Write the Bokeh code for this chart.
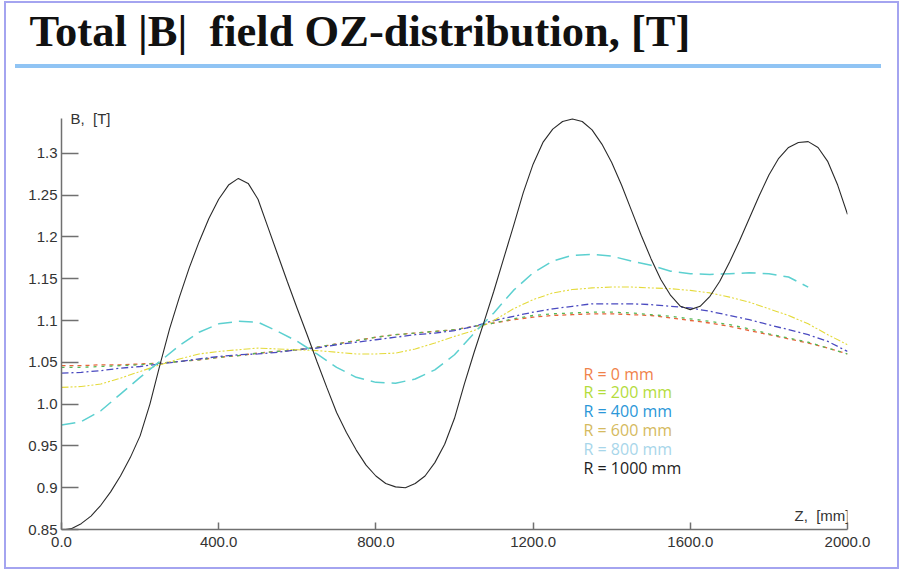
import numpy as np
from bokeh.plotting import figure
from bokeh.models import (FixedTicker, CustomJSTickFormatter, PrintfTickFormatter,
                          Label, Range1d)
from bokeh.embed import file_html
from bokeh.resources import INLINE

# Position along the axis, mm (coarse grid for the smooth inner radii)
z = [0, 50, 100, 150, 200, 250, 300, 350, 400, 450, 500, 550, 600, 650, 700, 750,
     800, 850, 900, 950, 1000, 1050, 1100, 1150, 1200, 1250, 1300, 1350, 1400, 1450,
     1500, 1550, 1600, 1650, 1700, 1750, 1800, 1850, 1900, 1950, 2000]

# |B| in tesla for each radius
b_r0 = [1.046, 1.046, 1.047, 1.047, 1.048, 1.049, 1.051, 1.053, 1.056, 1.058, 1.061,
        1.063, 1.065, 1.068, 1.072, 1.076, 1.080, 1.083, 1.085, 1.087, 1.089, 1.093,
        1.097, 1.101, 1.104, 1.106, 1.107, 1.108, 1.108, 1.107, 1.106, 1.103, 1.100,
        1.097, 1.093, 1.088, 1.083, 1.078, 1.073, 1.067, 1.060]
b_r200 = [1.044, 1.044, 1.045, 1.046, 1.047, 1.049, 1.051, 1.053, 1.056, 1.058, 1.061,
          1.063, 1.065, 1.068, 1.072, 1.076, 1.080, 1.083, 1.085, 1.087, 1.089, 1.093,
          1.097, 1.102, 1.106, 1.108, 1.109, 1.110, 1.110, 1.109, 1.107, 1.105, 1.102,
          1.099, 1.095, 1.090, 1.084, 1.079, 1.074, 1.067, 1.060]
b_r400 = [1.037, 1.038, 1.040, 1.043, 1.045, 1.048, 1.051, 1.054, 1.057, 1.059, 1.060,
          1.062, 1.065, 1.067, 1.071, 1.074, 1.077, 1.080, 1.083, 1.085, 1.088, 1.093,
          1.100, 1.105, 1.110, 1.114, 1.117, 1.120, 1.120, 1.120, 1.119, 1.117, 1.115,
          1.111, 1.106, 1.101, 1.095, 1.089, 1.083, 1.075, 1.063]
b_r600 = [1.020, 1.021, 1.024, 1.031, 1.039, 1.047, 1.054, 1.060, 1.063, 1.065, 1.067,
          1.066, 1.065, 1.064, 1.062, 1.060, 1.060, 1.061, 1.066, 1.073, 1.081, 1.088,
          1.100, 1.114, 1.125, 1.133, 1.137, 1.139, 1.140, 1.140, 1.139, 1.138, 1.136,
          1.133, 1.128, 1.122, 1.114, 1.106, 1.096, 1.083, 1.071]
b_r800 = [0.975, 0.979, 0.992, 1.012, 1.032, 1.051, 1.070, 1.086, 1.096, 1.099, 1.098,
          1.087, 1.075, 1.060, 1.044, 1.032, 1.026, 1.025, 1.030, 1.041, 1.059, 1.085,
          1.109, 1.136, 1.157, 1.171, 1.178, 1.179, 1.177, 1.171, 1.166, 1.159, 1.156,
          1.155, 1.156, 1.157, 1.156, 1.152, 1.140, np.nan, np.nan]

# outermost radius oscillates strongly, so it is sampled every 25 mm
z_fine = list(range(0, 2001, 25))
b_r1000 = [0.849, 0.851, 0.857, 0.866, 0.879, 0.895, 0.914, 0.936, 0.962, 1.000,
           1.046, 1.090, 1.128, 1.163, 1.194, 1.222, 1.245, 1.262, 1.270, 1.264,
           1.245, 1.212, 1.179, 1.146, 1.114, 1.083, 1.051, 1.020, 0.990, 0.966,
           0.945, 0.927, 0.914, 0.905, 0.901, 0.900, 0.905, 0.914, 0.930, 0.952,
           0.983, 1.024, 1.062, 1.098, 1.135, 1.174, 1.213, 1.253, 1.287, 1.313,
           1.329, 1.338, 1.341, 1.338, 1.328, 1.311, 1.289, 1.262, 1.232, 1.202,
           1.174, 1.149, 1.130, 1.117, 1.113, 1.117, 1.129, 1.147, 1.170, 1.195,
           1.222, 1.249, 1.274, 1.294, 1.307, 1.313, 1.314, 1.307, 1.290, 1.262,
           1.227]

radii = [0, 200, 400, 600, 800, 1000]
series_z = [z, z, z, z, z, z_fine]
series = [b_r0, b_r200, b_r400, b_r600, b_r800, b_r1000]

x_ticks = [0, 400, 800, 1200, 1600, 2000]
y_ticks = [0.85, 0.9, 0.95, 1.0, 1.05, 1.1, 1.15, 1.2, 1.25, 1.3]

title_text = "Total |B|\u00a0 field OZ-distribution, [T]"
y_title = "B,\u00a0 [T]"
x_title = "Z,\u00a0 [mm]"

# line styles per radius: colour, dash, width
line_colors = ["#e8643a", "#55b855", "#4a4ac0", "#e4da3a", "#5cd0d0", "#2a2a2a"]
line_dashes = ["4 4", "3 5", "7 3 2 3", "7 2 2 2 2 2", "14 7", "solid"]
line_widths = [1.3, 1.3, 1.3, 1.1, 1.5, 1.1]
legend_colors = ["#f0824a", "#b4dc3c", "#2b97d8", "#d5ba60", "#a8d6ea", "#1e1e1e"]

# slide decoration painted behind the (transparent) canvas: title rule and page edge
rule = "#90c4f4"
edge = "#a4a4f0"
page_bg = ", ".join([
    f"linear-gradient({rule},{rule}) 15px 64px / 866px 4px no-repeat",
    f"linear-gradient({edge},{edge}) 4px 1px / 895px 2px no-repeat",
    f"linear-gradient({edge},{edge}) 4px 567px / 895px 2px no-repeat",
    f"linear-gradient({edge},{edge}) 4px 1px / 2px 568px no-repeat",
    f"linear-gradient({edge},{edge}) 897px 1px / 2px 568px no-repeat",
    "white",
])

# frame reaches up under the title; the y axis line is bounded to the data span
p = figure(width=901, height=570, output_backend="svg", toolbar_location=None,
           x_range=Range1d(0, 2000), y_range=Range1d(0.85, 1.4158),
           min_border_left=61, min_border_right=54, min_border_top=56,
           min_border_bottom=41, styles={"background": page_bg})
p.background_fill_color = None
p.border_fill_color = None
p.outline_line_color = None
p.grid.visible = False

p.title.text = title_text
p.title.text_font = "Liberation Serif"
p.title.text_font_style = "bold"
p.title.text_font_size = "44.5px"
p.title.text_color = "#111111"
p.title.align = "left"
p.title.offset = -32
p.title.standoff = 2

for zz, vals, c, d, w in zip(series_z, series, line_colors, line_dashes, line_widths):
    p.line(zz, np.array(vals, dtype=float), line_color=c, line_dash=d, line_width=w)

axis_gray = "#707070"
tick_font = "Liberation Sans"

p.xaxis.ticker = FixedTicker(ticks=x_ticks)
p.xaxis.formatter = PrintfTickFormatter(format="%.1f")
p.xaxis.major_tick_in = 7
p.xaxis.major_tick_out = 0
p.xaxis.major_label_standoff = 7

p.yaxis.ticker = FixedTicker(ticks=y_ticks)
p.yaxis.formatter = CustomJSTickFormatter(code="return tick.toFixed(2).replace(/0$/, '');")
p.yaxis.major_tick_in = 17
p.yaxis.major_tick_out = 0
p.yaxis.major_label_standoff = 4
p.yaxis.bounds = (0.85, 1.342)

for ax in (p.xaxis, p.yaxis):
    ax.axis_line_color = axis_gray
    ax.axis_line_width = 1.5
    ax.major_tick_line_color = axis_gray
    ax.major_tick_line_width = 1.5
    ax.minor_tick_line_color = None
    ax.major_label_text_font = tick_font
    ax.major_label_text_font_size = "15px"
    ax.major_label_text_color = "#333333"

# screen positions below are relative to the plot frame (origin bottom-left)
p.add_layout(Label(x=9, y=411, x_units="screen", y_units="screen", text=y_title,
                   text_font=tick_font, text_font_size="15px", text_color="#333333",
                   text_baseline="middle"))
p.add_layout(Label(x=733, y=14, x_units="screen", y_units="screen", text=x_title,
                   text_font=tick_font, text_font_size="15px", text_color="#333333",
                   text_baseline="middle"))

for i, (r, c) in enumerate(zip(radii, legend_colors)):
    p.add_layout(Label(x=522, y=156 - i * 18.8, x_units="screen", y_units="screen",
                       text=f"R = {r} mm", text_font="Open Sans",
                       text_font_size="16px", text_color=c, text_baseline="middle"))

open("out.html", "w").write(file_html(p, INLINE))
